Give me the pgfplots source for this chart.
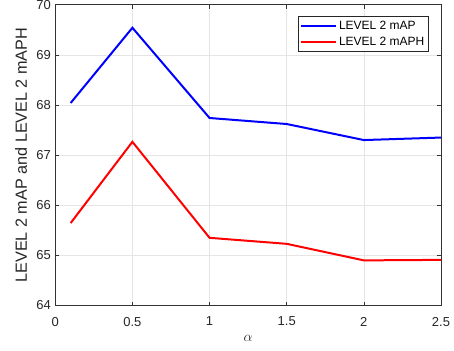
\documentclass[border=0pt]{standalone}
\usepackage{fontspec}
\setmainfont{Liberation Sans}
\usepackage{pgfplots}
\pgfplotsset{compat=1.18}
\begin{document}
\begin{tikzpicture}[x=1bp,y=1bp]
\begin{axis}[
  name=ax,
  scale only axis,
  width=386bp, height=301bp,
  xmin=0, xmax=2.5, ymin=64, ymax=70,
  xtick={0,0.5,1,1.5,2,2.5},
  ytick={64,65,66,67,68,69,70},
  xticklabels={0,0.5,1,1.5,2,2.5},
  /pgf/number format/assume math mode=true,
  ticklabel style={font=\fontsize{13bp}{15bp}\selectfont, text=black!85},
  xticklabel style={yshift=-8bp},
  yticklabel style={xshift=-1bp},
  tick align=inside, tick pos=both,
  major tick length=4bp,
  tick style={black!80, line width=0.5bp},
  axis line style={black!80, line width=0.6bp},
  grid=major,
  major grid style={gray!20, line width=0.6bp},
  xlabel={$\alpha$},
  ylabel={LEVEL 2 mAP and LEVEL 2 mAPH},
  xlabel style={font=\fontsize{15bp}{17bp}\selectfont, text=black!85, yshift=-2bp},
  ylabel style={font=\fontsize{16.2bp}{18bp}\selectfont, text=black!85, yshift=2.5bp},
  legend style={at={(0.968,0.961)}, anchor=north east,
    font=\fontsize{12bp}{14bp}\selectfont, draw=black!85, line width=0.6bp,
    inner sep=2bp, row sep=2.5bp, cells={anchor=west}},
  legend image code/.code={\draw[#1, line width=2bp] (0bp,0bp) -- (35bp,0bp);},
]
\addplot[blue, line width=2bp] coordinates {
 (0.1,68.04) (0.5,69.54) (1,67.74) (1.5,67.62) (2,67.30) (2.5,67.35)};
\addlegendentry{LEVEL 2 mAP}
\addplot[red, line width=2bp] coordinates {
 (0.1,65.645) (0.5,67.265) (1,65.35) (1.5,65.23) (2,64.90) (2.5,64.91)};
\addlegendentry{LEVEL 2 mAPH}
\end{axis}
\pgfresetboundingbox
\path ([xshift=-55.3bp,yshift=-45bp]ax.south west) rectangle ([xshift=13bp,yshift=4.7bp]ax.north east);
\end{tikzpicture}
\end{document}
